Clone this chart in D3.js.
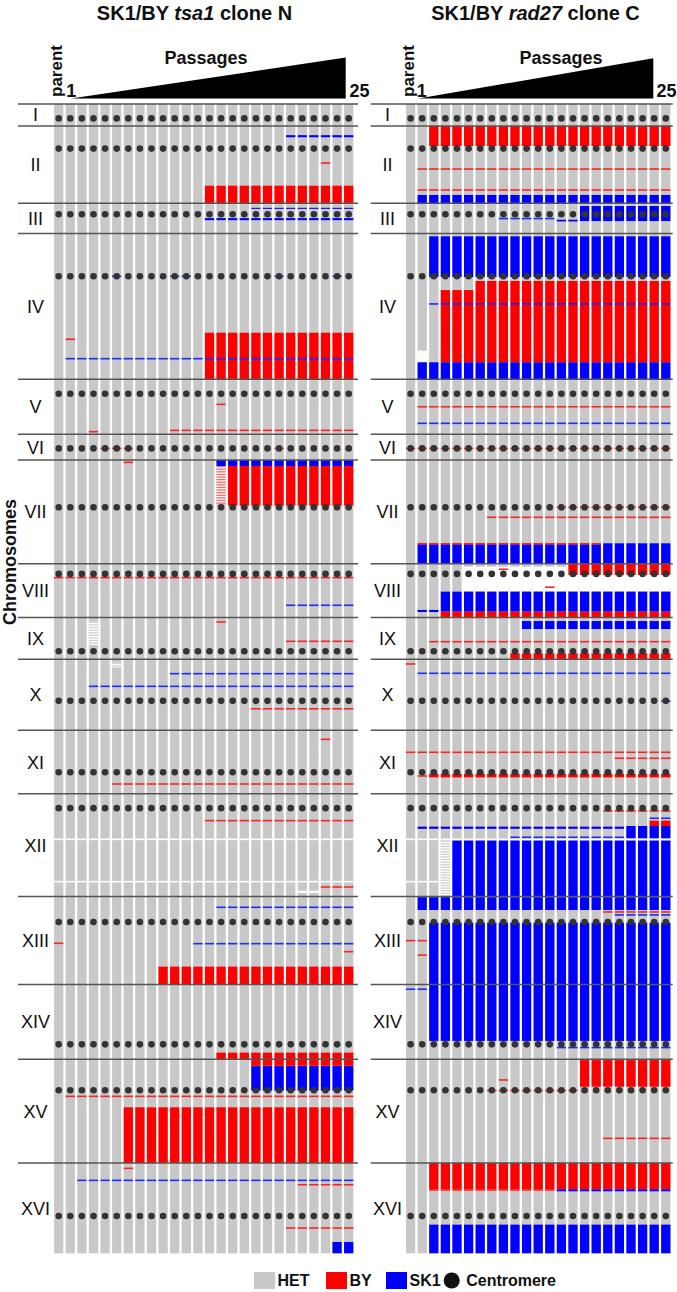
<!DOCTYPE html>
<html><head><meta charset="utf-8">
<script src="https://cdn.jsdelivr.net/npm/d3@7/dist/d3.min.js"></script>
<style>
body{margin:0;background:#fff}
svg{display:block}
text{font-family:"Liberation Sans",Arial,Helvetica,sans-serif;fill:#111}
</style>
</head><body>
<svg id="chart" width="677" height="1292"></svg>
<script>
// ---------------- DATA ----------------
const chromosomes = ["I","II","III","IV","V","VI","VII","VIII","IX","X","XI","XII","XIII","XIV","XV","XVI"];
const chromLengthsKb = [230.2, 813.2, 316.6, 1531.9, 576.9, 270.2, 1090.9, 562.6, 439.9, 745.8, 666.8, 1078.2, 924.4, 784.3, 1091.3, 948.1];
const centromereKb = [151.5, 238.2, 114.4, 449.7, 151.9, 148.5, 496.9, 105.6, 355.6, 436.3, 440.1, 150.8, 268.0, 628.8, 326.6, 555.9];

const leftColumns = ["parent","1","2","3","4","5","6","7","8","9","10","11","12","13","14","15","16","17","18","19","20","21","22","23","24","25"];
const rightColumns = ["parent","1","2","3","4","5","6","7","8","9","10","11","12","13","14","15","16","17","18","19","20","21","22"];

// LOH tracts: [chromosome, start kb, end kb, first column, last column, genotype]
const leftBlocks = [
  ["II", 628, 813.2, 13, 25, "BY"],
  ["II", 97, 119, 20, 25, "SK1"],
  ["III", 47, 58, 17, 25, "SK1"],
  ["III", 155, 177, 13, 25, "SK1"],
  ["IV", 1042, 1531.9, 13, 25, "BY"],
  ["VII", 0, 63, 14, 25, "SK1"],
  ["VII", 63, 480, 15, 25, "BY"],
  ["XIII", 737, 924.4, 9, 25, "BY"],
  ["XIV", 716, 784.3, 14, 25, "BY"],
  ["XV", 0, 70, 17, 25, "BY"],
  ["XV", 73, 331, 17, 25, "SK1"],
  ["XV", 506, 1091.3, 6, 25, "BY"],
  ["XVI", 829, 948.1, 24, 25, "SK1"]
];
// short tracts: [chromosome, kb, first column, last column, genotype]
const leftTracts = [
  ["II", 390, 23, 23, "BY"],
  ["IV", 449.7, 5, 5, "SK1"], ["IV", 449.7, 10, 11, "SK1"], ["IV", 449.7, 19, 19, "SK1"], ["IV", 449.7, 24, 24, "SK1"],
  ["IV", 1111, 1, 1, "BY"],
  ["IV", 1315, 1, 25, "SK1"],
  ["V", 263, 14, 14, "BY"],
  ["V", 550, 3, 3, "BY"],
  ["V", 536, 10, 25, "BY"],
  ["VI", 148.5, 4, 6, "BY"], ["VI", 148.5, 19, 19, "BY"],
  ["VII", 25, 6, 6, "BY"],
  ["VIII", 145, 0, 25, "BY"],
  ["VIII", 435, 20, 25, "SK1"],
  ["IX", 48, 14, 14, "BY"],
  ["IX", 251, 20, 25, "BY"],
  ["X", 151, 10, 25, "SK1"],
  ["X", 284, 3, 25, "SK1"],
  ["X", 520, 17, 25, "BY"],
  ["XI", 95, 23, 23, "BY"],
  ["XI", 564, 5, 25, "BY"],
  ["XII", 282, 13, 25, "BY"],
  ["XII", 979, 23, 25, "BY"],
  ["XIII", 114, 14, 25, "SK1"],
  ["XIII", 492, 0, 0, "BY"],
  ["XIII", 496, 12, 25, "SK1"],
  ["XIII", 580, 25, 25, "BY"],
  ["XV", 391, 1, 25, "BY"],
  ["XVI", 56, 6, 6, "BY"],
  ["XVI", 182, 2, 25, "SK1"],
  ["XVI", 228, 21, 25, "BY"],
  ["XVI", 683, 20, 25, "BY"]
];
// no-data regions: [chromosome, start kb, end kb, first column, last column]
const leftGaps = [
  ["XII", 470, 487, 0, 25],
  ["XII", 915, 931, 0, 25],
  ["XII", 1018, 1040, 21, 22]
];
// mixed-call regions: [chromosome, start kb, end kb, first column, last column, genotype]
const leftNoisy = [
  ["VII", 63, 455, 14, 14, "BY"],
  ["IX", 45, 290, 3, 3, "HET"],
  ["X", 35, 85, 5, 5, "HET"]
];

const rightBlocks = [
  ["II", 0, 211, 2, 22, "BY"],
  ["II", 725, 813.2, 1, 22, "SK1"],
  ["III", 28, 186, 15, 22, "SK1"],
  ["III", 172, 190, 13, 14, "SK1"],
  ["IV", 30, 458, 2, 22, "SK1"],
  ["IV", 594, 1353, 3, 5, "BY"],
  ["IV", 499, 1353, 6, 22, "BY"],
  ["IV", 1353, 1531.9, 1, 22, "SK1"],
  ["VII", 885, 1090.9, 1, 16, "SK1"],
  ["VII", 875, 1090.9, 17, 22, "SK1"],
  ["VIII", 0, 117, 14, 22, "BY"],
  ["VIII", 292, 502, 3, 22, "SK1"],
  ["VIII", 502, 562.6, 3, 22, "BY"],
  ["VIII", 484, 506, 1, 2, "SK1"],
  ["IX", 38, 122, 10, 22, "SK1"],
  ["IX", 377, 439.9, 9, 22, "BY"],
  ["XI", 457, 495, 2, 22, "BY"],
  ["XII", 282, 338, 21, 22, "BY"],
  ["XII", 338, 467, 19, 22, "SK1"],
  ["XII", 345, 368, 1, 18, "SK1"],
  ["XII", 492, 1078.2, 4, 22, "SK1"],
  ["XIII", 8, 142, 1, 22, "SK1"],
  ["XIII", 275, 924.4, 2, 22, "SK1"],
  ["XIV", 0, 593, 2, 22, "SK1"],
  ["XV", 10, 290, 15, 22, "BY"],
  ["XVI", 0, 276, 2, 22, "BY"],
  ["XVI", 276, 297, 13, 22, "SK1"],
  ["XVI", 647, 948.1, 2, 22, "SK1"]
];
const rightTracts = [
  ["II", 453, 1, 22, "BY"],
  ["II", 673, 1, 22, "BY"],
  ["III", 160, 8, 12, "SK1"],
  ["IV", 740, 2, 22, "SK1"],
  ["V", 288, 1, 22, "BY"],
  ["V", 462, 1, 22, "SK1"],
  ["VI", 148.5, 0, 22, "BY"],
  ["VII", 497, 13, 22, "BY"],
  ["VII", 602, 7, 22, "BY"],
  ["VII", 880, 1, 16, "BY"],
  ["VIII", 57, 8, 8, "BY"],
  ["VIII", 245, 12, 12, "BY"],
  ["IX", 255, 2, 22, "BY"],
  ["X", 49, 0, 0, "BY"],
  ["X", 147, 1, 22, "SK1"],
  ["X", 440, 22, 22, "SK1"],
  ["XI", 231, 0, 22, "BY"],
  ["XI", 294, 18, 22, "BY"],
  ["XI", 480, 1, 1, "BY"],
  ["XII", 180, 17, 22, "BY"],
  ["XII", 257, 21, 22, "SK1"],
  ["XII", 457, 9, 18, "SK1"],
  ["XIII", 163, 17, 22, "BY"],
  ["XIII", 194, 18, 22, "SK1"],
  ["XIII", 464, 0, 1, "BY"],
  ["XIII", 616, 1, 1, "BY"],
  ["XIV", 50, 0, 1, "SK1"],
  ["XIV", 663, 13, 22, "SK1"],
  ["XV", 219, 8, 8, "BY"],
  ["XV", 330, 7, 14, "BY"],
  ["XV", 832, 17, 22, "BY"],
  ["XVI", 283, 2, 12, "BY"]
];
const rightGaps = [
  ["IV", 1231, 1353, 1, 1],
  ["VIII", 30, 288, 5, 22],
  ["XII", 470, 487, 0, 22],
  ["XII", 915, 931, 0, 22]
];
const rightNoisy = [
  ["XII", 492, 1078.2, 3, 3, "HET"]
];

const legendItems = ["HET","BY","SK1","Centromere"];

// ---------------- DRAWING ----------------
const colors = {HET:"#c8c8c8", BY:"#ff0000", SK1:"#0000ff"};
const svg = d3.select("#chart");

const offsets = {};
let acc = 0;
chromosomes.forEach((c,i)=>{ offsets[c]=acc; acc += chromLengthsKb[i]; });
const yScale = d3.scaleLinear().domain([0, acc]).range([104, 1253.3]);
const y = (chr, kb) => yScale(offsets[chr] + kb);

function drawPanel(cfg){
  const g = svg.append("g");
  const n = cfg.columns.length;
  const step = 11.6;
  const x = d3.scaleBand().domain(d3.range(n)).range([cfg.x0, cfg.x0 + n*step]).paddingInner(0.2).paddingOuter(0.1);
  const bw = x.bandwidth();

  // gray HET columns
  const cells = [];
  chromosomes.forEach((c,ci)=>d3.range(n).forEach(k=>cells.push({c, k, len: chromLengthsKb[ci]})));
  g.append("g").selectAll("rect").data(cells).join("rect")
    .attr("x", d=>x(d.k)).attr("width", bw)
    .attr("y", d=>y(d.c,0)).attr("height", d=>y(d.c,d.len)-y(d.c,0))
    .attr("fill", colors.HET);

  const expand = arr => arr.flatMap(r => d3.range(r[3], r[4]+1).map(k => ({r, k})));
  // gaps
  g.append("g").selectAll("rect").data(expand(cfg.gaps)).join("rect")
    .attr("x", d=>x(d.k)-0.3).attr("width", bw+0.6)
    .attr("y", d=>y(d.r[0], d.r[1])).attr("height", d=>Math.max(1.2, y(d.r[0], d.r[2])-y(d.r[0], d.r[1])))
    .attr("fill", "#fff");
  // noisy regions: striped
  const noisyG = g.append("g");
  expand(cfg.noisy).forEach(d=>{
    const y0 = y(d.r[0], d.r[1]), y1 = y(d.r[0], d.r[2]);
    noisyG.append("rect").attr("x", x(d.k)).attr("width", bw).attr("y", y0).attr("height", y1-y0).attr("fill","#fff");
    for(let yy=y0; yy<y1; yy+=2.6){
      noisyG.append("rect").attr("x", x(d.k)).attr("width", bw).attr("y", yy).attr("height", 1.3)
        .attr("fill", d.r[5]==="BY" ? "#f26a6a" : "#d0d0d0");
    }
  });
  // blocks
  g.append("g").selectAll("rect").data(expand(cfg.blocks)).join("rect")
    .attr("x", d=>x(d.k)).attr("width", bw)
    .attr("y", d=>y(d.r[0], d.r[1])).attr("height", d=>y(d.r[0], d.r[2])-y(d.r[0], d.r[1]))
    .attr("fill", d=>colors[d.r[5]]);
  // short tracts
  const expandT = arr => arr.flatMap(r => d3.range(r[2], r[3]+1).map(k => ({r, k})));
  g.append("g").selectAll("rect").data(expandT(cfg.tracts)).join("rect")
    .attr("x", d=>x(d.k)).attr("width", bw)
    .attr("y", d=>y(d.r[0], d.r[1])-0.8).attr("height", 1.6)
    .attr("fill", d=>d.r[4]==="BY" ? "#f22" : "#1a2cff");

  // separators
  g.append("g").selectAll("line").data(chromosomes).join("line")
    .attr("x1", cfg.sep[0]).attr("x2", cfg.sep[1])
    .attr("y1", c=>y(c,0)).attr("y2", c=>y(c,0))
    .attr("stroke", "#555").attr("stroke-width", 1.5);

  // chromosome labels
  g.append("g").selectAll("text").data(chromosomes).join("text")
    .attr("x", cfg.labelX)
    .attr("y", (c,i)=>(y(c,0)+y(c,chromLengthsKb[i]))/2)
    .attr("dy", "0.36em").attr("text-anchor","middle")
    .style("font-size","18px").text(c=>c);

  // centromeres
  const cen = [];
  chromosomes.forEach((c,ci)=>d3.range(n).forEach(k=>cen.push({c, k, kb: centromereKb[ci]})));
  g.append("g").selectAll("circle").data(cen).join("circle")
    .attr("cx", d=>x(d.k)+bw/2).attr("cy", d=>y(d.c,d.kb)).attr("r", 3.3)
    .attr("fill", "#333");

  // header
  const title = g.append("text").attr("x", cfg.titleX).attr("y", 20).attr("text-anchor","middle")
    .style("font-size","20px").style("font-weight","bold");
  title.append("tspan").text(cfg.title[0]);
  title.append("tspan").style("font-style","italic").text(cfg.title[1]);
  title.append("tspan").text(cfg.title[2]);

  g.append("text").attr("x", cfg.passX).attr("y", 64).attr("text-anchor","middle")
    .style("font-size","18px").style("font-weight","bold").text("Passages");
  g.append("path")
    .attr("d", `M${cfg.tri[0]},98.5 L${cfg.tri[1]},98.5 L${cfg.tri[1]},${cfg.tri[2]} Z`)
    .attr("fill", "#000");
  g.append("text").attr("transform", `translate(${x(0)+bw-1},97) rotate(-90)`)
    .style("font-size","17px").style("font-weight","bold").text(cfg.columns[0]);
  g.append("text").attr("x", cfg.oneX).attr("y", 97)
    .style("font-size","18px").style("font-weight","bold").text("1");
  g.append("text").attr("x", cfg.lastX).attr("y", 97)
    .style("font-size","18px").style("font-weight","bold").text("25");
}

drawPanel({
  columns: leftColumns, blocks: leftBlocks, tracts: leftTracts, gaps: leftGaps, noisy: leftNoisy,
  x0: 52.9, sep: [18, 358], labelX: 35.5,
  title: ["SK1/BY ", "tsa1", " clone N"], titleX: 194.5, passX: 206,
  tri: [71, 345.7, 57.5], oneX: 66.3, lastX: 349.5
});
drawPanel({
  columns: rightColumns, blocks: rightBlocks, tracts: rightTracts, gaps: rightGaps, noisy: rightNoisy,
  x0: 404.8, sep: [370.7, 672.7], labelX: 387.5,
  title: ["SK1/BY ", "rad27", " clone C"], titleX: 535.5, passX: 561,
  tri: [418.3, 653.3, 58.3], oneX: 416.8, lastX: 656.5
});

// axis title
svg.append("text").attr("transform","translate(16,562) rotate(-90)").attr("text-anchor","middle")
  .style("font-size","18px").style("font-weight","bold").text("Chromosomes");

// legend
const lg = svg.append("g");
const lx = [254, 326, 386, 451.7];
const lc = [colors.HET, colors.BY, colors.SK1, "#111"];
legendItems.forEach((t,i)=>{
  if(i<3){
    lg.append("rect").attr("x", lx[i]).attr("y", 1272).attr("width", 21).attr("height", 17).attr("fill", lc[i]);
    lg.append("text").attr("x", lx[i]+23.5).attr("y", 1286).style("font-size","16px").style("font-weight","bold").text(t);
  } else {
    lg.append("circle").attr("cx", lx[i]).attr("cy", 1280.5).attr("r", 8).attr("fill", lc[i]);
    lg.append("text").attr("x", lx[i]+14.5).attr("y", 1286).style("font-size","16px").style("font-weight","bold").text(t);
  }
});
</script>
</body></html>
